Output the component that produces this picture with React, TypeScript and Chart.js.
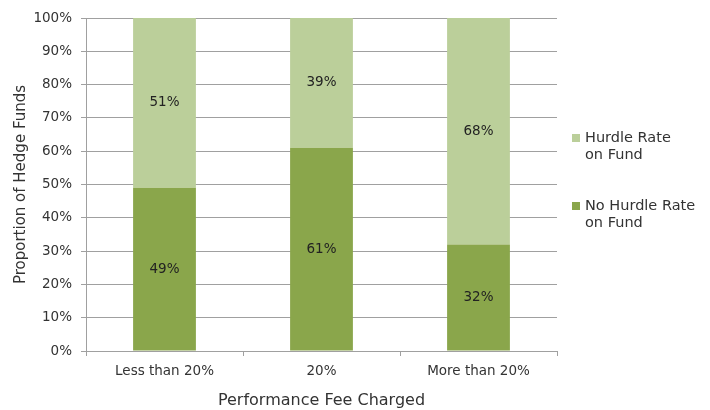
import React, { useEffect, useRef } from "react";
import { Chart, registerables } from "chart.js";

Chart.register(...registerables);

const categories = ["Less than 20%", "20%", "More than 20%"];
const noHurdle = [49, 61, 32];
const hurdle = [51, 39, 68];
const yTicks = [0, 10, 20, 30, 40, 50, 60, 70, 80, 90, 100];
const legendNames = [["Hurdle Rate", "on Fund"], ["No Hurdle Rate", "on Fund"]];

const DARK = "#8aa64b";
const LIGHT = "#bbcf9a";
const FONT = "'DejaVu Sans', sans-serif";

export default function App() {
  const ref = useRef<HTMLCanvasElement | null>(null);
  useEffect(() => {
    const labelPlugin = {
      id: "segLabels",
      afterDatasetsDraw(chart: any) {
        const ctx = chart.ctx;
        ctx.save();
        ctx.font = `13.5px ${FONT}`;
        ctx.fillStyle = "#222";
        ctx.textAlign = "center";
        ctx.textBaseline = "middle";
        chart.data.datasets.forEach((ds: any, i: number) => {
          const meta = chart.getDatasetMeta(i);
          meta.data.forEach((bar: any, j: number) => {
            const y = (bar.y + bar.base) / 2;
            ctx.fillText(ds.data[j] + "%", bar.x, y);
          });
        });
        ctx.restore();
      },
    };
    const legendPlugin = {
      id: "sideLegend",
      afterDraw(chart: any) {
        const ctx = chart.ctx;
        const area = chart.chartArea;
        ctx.save();
        ctx.font = `14.5px ${FONT}`;
        ctx.textBaseline = "middle";
        ctx.textAlign = "left";
        const colors = [LIGHT, DARK];
        const startY = [138, 206];
        legendNames.forEach((lines, i) => {
          const x = area.right + 15;
          const y = startY[i];
          ctx.fillStyle = colors[i];
          ctx.fillRect(x, y - 4, 8, 8);
          ctx.fillStyle = "#333";
          lines.forEach((t, k) => ctx.fillText(t, x + 13, y + k * 17));
        });
        ctx.restore();
      },
    };
    const chart = new Chart(ref.current as HTMLCanvasElement, {
      type: "bar",
      data: {
        labels: categories,
        datasets: [
          { label: "No Hurdle Rate on Fund", data: noHurdle, backgroundColor: DARK, categoryPercentage: 1, barPercentage: 0.4 },
          { label: "Hurdle Rate on Fund", data: hurdle, backgroundColor: LIGHT, categoryPercentage: 1, barPercentage: 0.4 },
        ],
      },
      options: {
        animation: false,
        responsive: false,
        maintainAspectRatio: false,
        layout: { padding: { left: 0, top: 18, right: 153, bottom: 0 } },
        plugins: { legend: { display: false }, tooltip: { enabled: false } },
        scales: {
          x: {
            stacked: true,
            grid: { display: true, drawOnChartArea: false, drawTicks: true, tickLength: 5, color: "#a0a0a0", offset: true },
            border: { color: "#a0a0a0" },
            ticks: { font: { family: FONT, size: 13.5 }, color: "#333", padding: 7 },
            title: { display: true, text: "Performance Fee Charged", font: { family: FONT, size: 16 }, color: "#333", padding: { top: 0, bottom: 0 } },
            afterFit: (s: any) => { s.height = 59; },
          },
          y: {
            stacked: true,
            min: 0,
            max: 100,
            afterBuildTicks: (s: any) => { s.ticks = yTicks.map((v) => ({ value: v })); },
            grid: { color: "#a0a0a0", tickLength: 5 },
            border: { color: "#a0a0a0" },
            ticks: { font: { family: FONT, size: 13.5 }, color: "#333", padding: 9, callback: (v: any) => v + "%" },
            title: { display: true, text: "Proportion of Hedge Funds", font: { family: FONT, size: 15 }, color: "#333", padding: { top: 12, bottom: 0 } },
            afterFit: (s: any) => { s.width = 86; },
          },
        },
      },
      plugins: [labelPlugin, legendPlugin],
    });
    return () => chart.destroy();
  }, []);
  return (
    <div style={{ position: "fixed", left: 0, top: 0, width: 710, height: 410, background: "#fff" }}>
      <canvas ref={ref} width={710} height={410} style={{ width: 710, height: 410 }} />
    </div>
  );
}
